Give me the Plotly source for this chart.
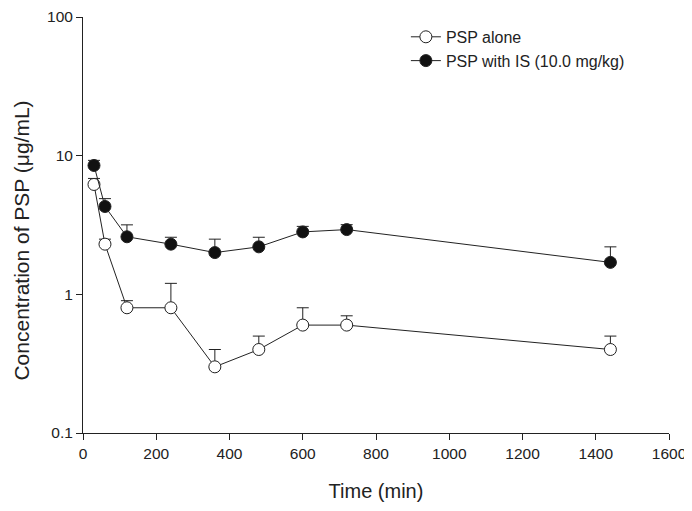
import plotly.graph_objects as go

time_min = [30, 60, 120, 240, 360, 480, 600, 720, 1440]
psp_alone = [6.2, 2.3, 0.8, 0.8, 0.3, 0.4, 0.6, 0.6, 0.4]
psp_alone_err = [0.65, 0.2, 0.1, 0.4, 0.1, 0.1, 0.2, 0.1, 0.1]
psp_is = [8.5, 4.3, 2.6, 2.3, 2.0, 2.2, 2.82, 2.93, 1.7]
psp_is_err = [0.75, 0.6, 0.57, 0.28, 0.5, 0.38, 0.27, 0.25, 0.5]
zeros = [0] * len(time_min)

y_tickvals = [0.1, 1, 10, 100]
y_ticktext = ["0.1", "1", "10", "100"]
x_tickvals = [0, 200, 400, 600, 800, 1000, 1200, 1400, 1600]
y_title = "Concentration of PSP (\u03bcg/mL)"
x_title = "Time (min)"

line_col = "#222222"

fig = go.Figure()
fig.add_trace(go.Scatter(
    x=time_min, y=psp_alone, mode="lines+markers", name="PSP alone",
    line=dict(color=line_col, width=1),
    marker=dict(symbol="circle", size=12, color="white", line=dict(color=line_col, width=1)),
    error_y=dict(type="data", array=psp_alone_err, arrayminus=zeros, symmetric=False,
                 color=line_col, thickness=1, width=6),
))
fig.add_trace(go.Scatter(
    x=time_min, y=psp_is, mode="lines+markers", name="PSP with IS (10.0 mg/kg)",
    line=dict(color=line_col, width=1),
    marker=dict(symbol="circle", size=12, color="#111111", line=dict(color=line_col, width=1)),
    error_y=dict(type="data", array=psp_is_err, arrayminus=zeros, symmetric=False,
                 color=line_col, thickness=1, width=6),
))

# page body has an 8px default margin, so the figure is 8px smaller and margins shifted
fig.update_layout(
    width=684, height=503,
    margin=dict(l=75, r=23, t=9, b=78, autoexpand=False),
    paper_bgcolor="white", plot_bgcolor="white",
    font=dict(family="Liberation Sans, Arial, sans-serif", color="#222222", size=15.5),
    showlegend=True,
    legend=dict(x=0.551, y=0.993, xanchor="left", yanchor="top",
                bgcolor="rgba(0,0,0,0)", font=dict(size=16), tracegroupgap=0,
                itemwidth=30),
    annotations=[dict(
        text=y_title, textangle=-90, xref="paper", yref="paper",
        x=-0.1045, y=0.462, xanchor="center", yanchor="middle", showarrow=False,
        font=dict(size=21, color="#222222"),
    )],
)
fig.update_xaxes(
    range=[0, 1600], tickvals=x_tickvals, showgrid=False, zeroline=False,
    showline=True, linecolor=line_col, linewidth=1, ticks="outside", ticklen=6,
    tickcolor=line_col, automargin=False, ticklabeloverflow="allow",
    title=dict(text=x_title, font=dict(size=20), standoff=23),
    tickfont=dict(size=15.5),
)
fig.update_yaxes(
    type="log", range=[-1, 2], tickvals=y_tickvals, ticktext=y_ticktext,
    showgrid=False, zeroline=False, showline=True, linecolor=line_col, linewidth=1,
    ticks="outside", ticklen=6, tickcolor=line_col, automargin=False,
    ticklabeloverflow="allow",
    tickfont=dict(size=15.5),
)

fig.write_html("out.html")
